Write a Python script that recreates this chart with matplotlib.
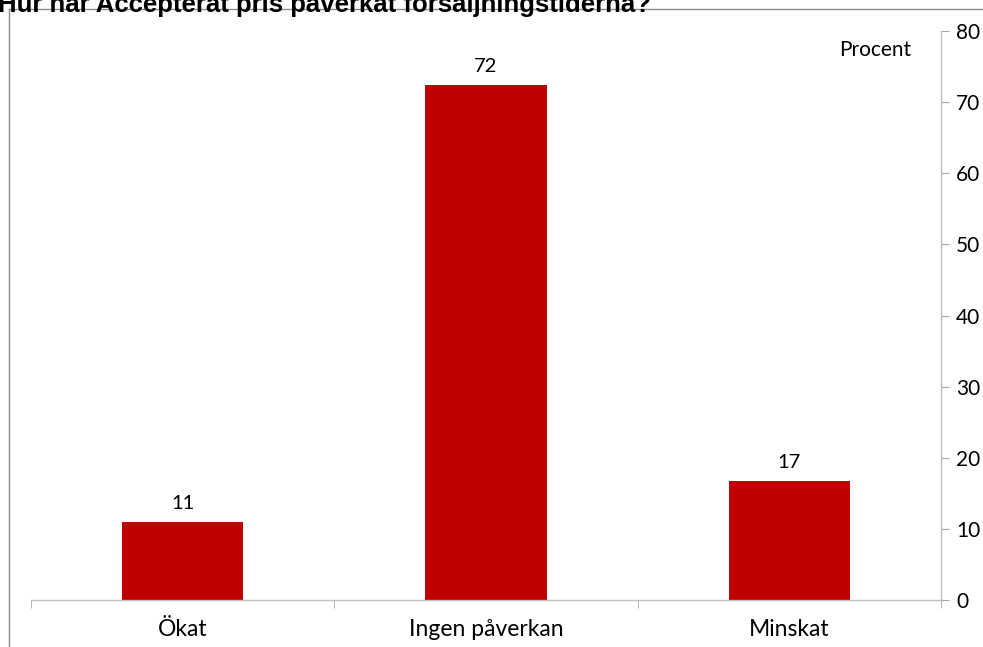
import matplotlib
matplotlib.use("Agg")
import matplotlib.pyplot as plt
from matplotlib.lines import Line2D

categories = ["Ökat", "Ingen påverkan", "Minskat"]
values = [11.0, 72.4, 16.7]
labels = ["11", "72", "17"]
yticks = [0, 10, 20, 30, 40, 50, 60, 70, 80]
title = "Hur har Accepterat pris påverkat försäljningstiderna?"

W, H = 983, 647
fig = plt.figure(figsize=(W / 100, H / 100), dpi=100)
ax = fig.add_axes([31 / W, (H - 600) / H, (941 - 31) / W, (600 - 31) / H])

x = list(range(len(categories)))
ax.bar(x, values, width=0.4, color="#C00000", zorder=2)
ax.set_xlim(-0.5, len(categories) - 0.5)
ax.set_ylim(0, 80)

for xi, v, lab in zip(x, values, labels):
    ax.annotate(lab, (xi, v), xytext=(0, 7), textcoords="offset points",
                ha="center", va="bottom", fontsize=14.5, family="Lato", color="#000000")

ax.yaxis.tick_right()
ax.set_yticks(yticks)
ax.set_yticklabels([str(t) for t in yticks], fontsize=15, family="Lato")
ax.set_xticks(x)
ax.set_xticklabels(categories, fontsize=16.5, family="Lato")
ax.tick_params(axis="x", length=0, pad=14)
ax.set_xticks([-0.5, 0.5, 1.5, 2.5], minor=True)
ax.tick_params(axis="x", which="minor", length=6, color="#a6a6a6", direction="out")
ax.tick_params(axis="y", length=6, color="#a6a6a6", direction="out", pad=5)

for s in ["left", "top"]:
    ax.spines[s].set_visible(False)
for s in ["bottom", "right"]:
    ax.spines[s].set_color("#bfbfbf")
    ax.spines[s].set_linewidth(1.0)

fig.text(911 / W, 1 - 50 / H, "Procent", ha="right", va="center",
         fontsize=15, family="Lato")

fig.text(-2 / W, 1 - 12 / H, title, ha="left", va="baseline", fontsize=18.5,
         fontweight="bold", family="Liberation Sans")

# outer border lines of the original chart frame
fig.add_artist(Line2D([9 / W, 1.0], [1 - 9 / H, 1 - 9 / H], transform=fig.transFigure,
                      color="#8c8c8c", lw=1))
fig.add_artist(Line2D([9 / W, 9 / W], [1 - 9 / H, 0], transform=fig.transFigure,
                      color="#8c8c8c", lw=1))

fig.savefig("out.png", dpi=100)
